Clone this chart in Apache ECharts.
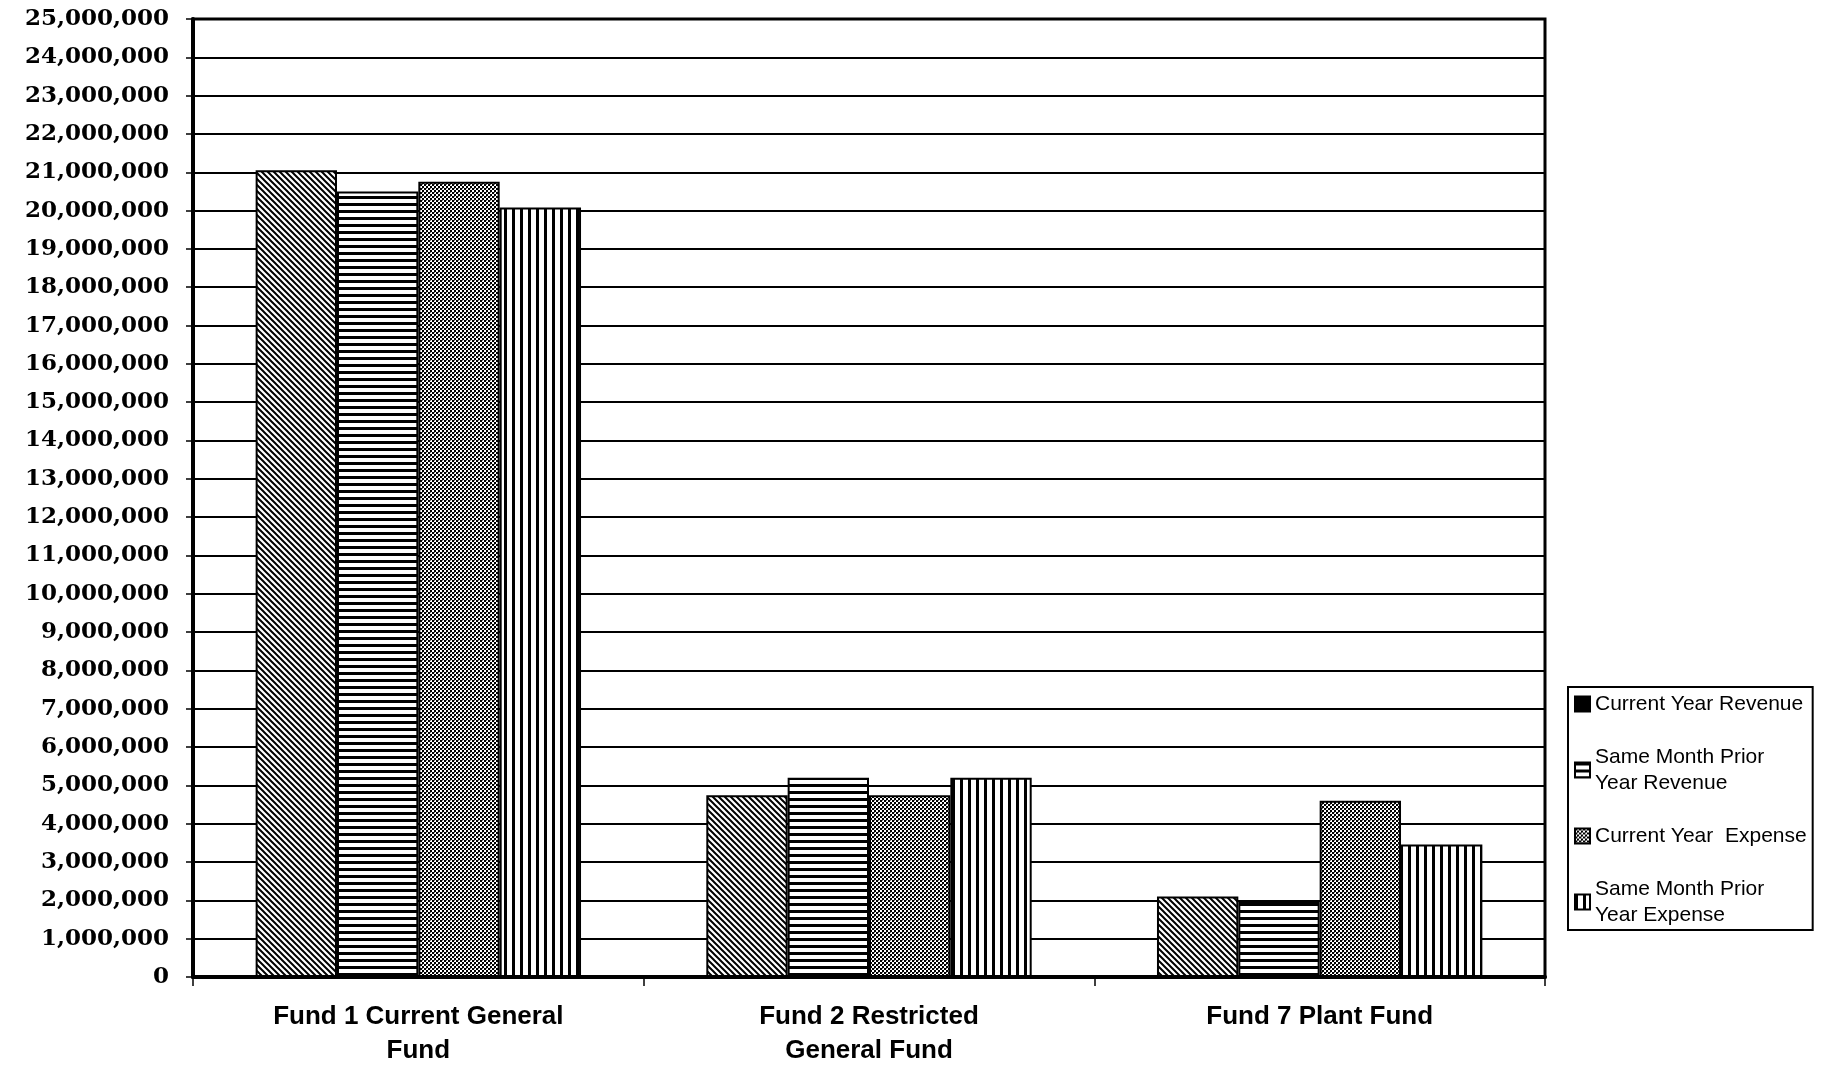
<!DOCTYPE html>
<html lang="en">
<head>
<meta charset="utf-8">
<title>Fund Revenue and Expense</title>
<script src="https://cdn.jsdelivr.net/npm/echarts@6/dist/echarts.min.js"></script>
<style>
	html,body{margin:0;padding:0;background:#fff;}
	#chart{width:1821px;height:1066px;}
</style>
</head>
<body>
<div id="chart"></div>
<script>
	// data
	var funds=["Fund 1 Current General\nFund","Fund 2 Restricted\nGeneral Fund","Fund 7 Plant Fund"];
	var seriesNames=["Current Year Revenue","Same Month Prior\nYear Revenue","Current Year  Expense","Same Month Prior\nYear Expense"];
	var curRevenue=[21050000,4740000,2100000];
	var priorRevenue=[20500000,5200000,1970000];
	var curExpense=[20750000,4740000,4600000];
	var priorExpense=[20080000,5200000,3460000];
	var yMin=0,yMax=25000000,yStep=1000000;

	// fill patterns (hatches like the old Excel print)
	function tile(w,h,draw){
		var c=document.createElement("canvas");
		c.width=w;c.height=h;
		var ctx=c.getContext("2d");
		ctx.fillStyle="#fff";ctx.fillRect(0,0,w,h);
		ctx.fillStyle="#000";ctx.strokeStyle="#000";
		draw(ctx);
		return {image:c,repeat:"repeat"};
	}
	var diag=tile(6,6,function(ctx){
		ctx.lineWidth=2;
		ctx.beginPath();
		ctx.moveTo(-1,-1);ctx.lineTo(7,7);
		ctx.moveTo(-7,-1);ctx.lineTo(1,7);
		ctx.moveTo(5,-1);ctx.lineTo(13,7);
		ctx.stroke();
	});
	var horiz=tile(8,7,function(ctx){ ctx.fillRect(0,0,8,3); });
	var checker=tile(4,4,function(ctx){
		ctx.fillRect(0,0,2,2);ctx.fillRect(2,2,2,2);
		ctx.fillStyle="#777";ctx.fillRect(2,0,1,1);
	});
	var vert=tile(8,8,function(ctx){ ctx.fillRect(0,0,3,8); });

	var fills=[diag,horiz,checker,vert];
	var values=[curRevenue,priorRevenue,curExpense,priorExpense];

	var series=[];
	for(var i=0;i<seriesNames.length;i++){
		series.push({
			name:seriesNames[i],
			type:"bar",
			data:values[i],
			barGap:"0%",
			barCategoryGap:"27.8%",
			itemStyle:{color:fills[i],borderColor:"#000",borderWidth:2},
			animation:false
		});
	}

	var legendData=seriesNames.map(function(n,i){
		var d={name:n,icon:"rect"};
		if(i==0) d.itemStyle={color:"#000"};
		return d;
	});

	var option={
		animation:false,
		backgroundColor:"#fff",
		grid:{
			left:193,right:276,top:19,bottom:89,
			outerBoundsMode:"none",
			show:true,borderColor:"#000",borderWidth:3,backgroundColor:"transparent"
		},
		legend:{
			orient:"vertical",
			left:1568,
			top:687,
			padding:[4,6,2,6],
			itemGap:27,
			itemWidth:15,
			itemHeight:15,
			borderColor:"#000",
			borderWidth:2,
			backgroundColor:"#fff",
			textStyle:{fontFamily:"Liberation Sans",fontSize:21,color:"#000",lineHeight:26},
			data:legendData
		},
		xAxis:{
			type:"category",
			data:funds,
			axisLine:{lineStyle:{color:"#000",width:4}},
			axisTick:{show:true,length:9,lineStyle:{color:"#000",width:1.5}},
			axisLabel:{margin:23,fontFamily:"Liberation Sans",fontWeight:"bold",fontSize:26,lineHeight:34,color:"#000"}
		},
		yAxis:{
			type:"value",
			min:yMin,max:yMax,interval:yStep,
			axisLine:{show:true,lineStyle:{color:"#000",width:4}},
			axisTick:{show:true,length:7,lineStyle:{color:"#000",width:1.5}},
			splitLine:{show:true,lineStyle:{color:"#000",width:2}},
			axisLabel:{
				margin:24,
				fontFamily:"DejaVu Serif",fontWeight:"bold",fontSize:23,color:"#000",
				formatter:function(v){return v.toLocaleString("en-US");}
			}
		},
		series:series
	};

	var chart=echarts.init(document.getElementById("chart"));
	chart.setOption(option);
</script>
</body>
</html>
